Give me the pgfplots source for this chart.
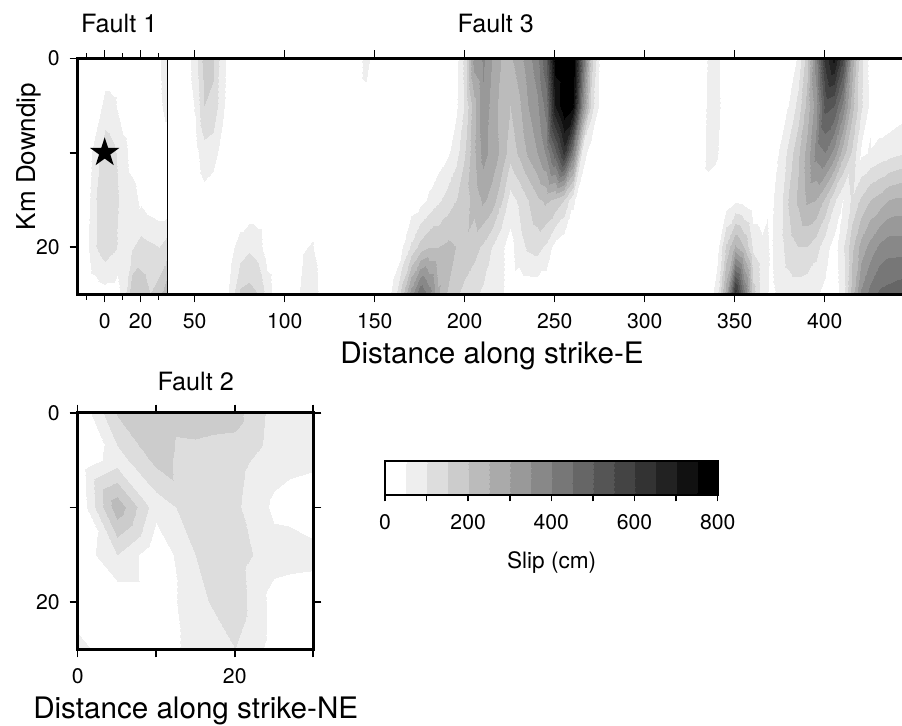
\documentclass[border=0pt]{standalone}
\usepackage{pgfplots}
\pgfplotsset{compat=1.18}
\usepackage{fontspec}
\setmainfont{TeX Gyre Heros}

% 16 grey steps of 50 cm, white to black
\pgfplotsset{
  colormap={slip}{gray(0cm)=(1); gray(1cm)=(0.9333); gray(2cm)=(0.8667); gray(3cm)=(0.8);
    gray(4cm)=(0.7333); gray(5cm)=(0.6667); gray(6cm)=(0.6); gray(7cm)=(0.5333);
    gray(8cm)=(0.4667); gray(9cm)=(0.4); gray(10cm)=(0.3333); gray(11cm)=(0.2667);
    gray(12cm)=(0.2); gray(13cm)=(0.1333); gray(14cm)=(0.0667); gray(15cm)=(0); gray(16cm)=(0)},
  fault/.style={scale only axis, axis on top, y dir=reverse, enlargelimits=false,
    tick align=outside, tick pos=both,
    axis line style={line width=1.4pt},
    every tick/.style={black, line width=0.8pt},
    major tick length=4pt, minor tick length=2.6pt,
    tick label style={font=\fontsize{10.6}{12}\selectfont},
    xticklabel style={yshift=-2pt}, yticklabel style={xshift=-1.5pt},
    /pgf/number format/assume math mode=true,
    colormap name=slip, point meta min=0, point meta max=800},
  slip/.style={surf, shader=interp, colormap access=piecewise constant,
    point meta=explicit, mesh/rows=6},
}

\pgfdeclareplotmark{fstar}{%
  \pgfpathmoveto{\pgfpointpolar{90}{\pgfplotmarksize}}%
  \pgfpathlineto{\pgfpointpolar{126}{0.382\pgfplotmarksize}}%
  \pgfpathlineto{\pgfpointpolar{162}{\pgfplotmarksize}}%
  \pgfpathlineto{\pgfpointpolar{198}{0.382\pgfplotmarksize}}%
  \pgfpathlineto{\pgfpointpolar{234}{\pgfplotmarksize}}%
  \pgfpathlineto{\pgfpointpolar{270}{0.382\pgfplotmarksize}}%
  \pgfpathlineto{\pgfpointpolar{306}{\pgfplotmarksize}}%
  \pgfpathlineto{\pgfpointpolar{342}{0.382\pgfplotmarksize}}%
  \pgfpathlineto{\pgfpointpolar{18}{\pgfplotmarksize}}%
  \pgfpathlineto{\pgfpointpolar{54}{0.382\pgfplotmarksize}}%
  \pgfpathclose\pgfusepathqfill}

\begin{document}
\begin{tikzpicture}
\path[use as bounding box] (0,0) rectangle (451pt,-362.5pt);

% ---- Fault 1 + Fault 3 ----
\begin{axis}[fault, name=top, at={(38.85pt,-29.15pt)}, anchor=north west,
  width=414pt, height=118pt,
  xmin=-15, xmax=445, ymin=0, ymax=25,
  xtick={0,20,50,100,150,200,250,300,350,400}, minor xtick={-10,10,30},
  ytick={0,10,20}, yticklabels={0,,20}]

% Fault 1
\addplot[slip] coordinates {
(-15,0) [10] (-10,0) [10] (-5,0) [10] (0,0) [10] (5,0) [10] (10,0) [10] (15,0) [10] (20,0) [10] (25,0) [10] (30,0) [45] (35,0) [80]
(-15,5) [10] (-10,5) [10] (-5,5) [15] (0,5) [70] (5,5) [60] (10,5) [20] (15,5) [10] (20,5) [10] (25,5) [10] (30,5) [40] (35,5) [70]
(-15,10) [10] (-10,10) [20] (-5,10) [80] (0,10) [130] (5,10) [110] (10,10) [70] (15,10) [30] (20,10) [15] (25,10) [10] (30,10) [10] (35,10) [10]
(-15,15) [10] (-10,15) [30] (-5,15) [100] (0,15) [140] (5,15) [120] (10,15) [80] (15,15) [70] (20,15) [40] (25,15) [20] (30,15) [10] (35,15) [10]
(-15,20) [10] (-10,20) [40] (-5,20) [100] (0,20) [130] (5,20) [110] (10,20) [80] (15,20) [95] (20,20) [120] (25,20) [110] (30,20) [100] (35,20) [130]
(-15,25) [10] (-10,25) [10] (-5,25) [20] (0,25) [30] (5,25) [30] (10,25) [60] (15,25) [190] (20,25) [180] (25,25) [150] (30,25) [180] (35,25) [250]
};

% Fault 3
\addplot[slip] coordinates {
(35,0) [10] (40,0) [10] (45,0) [20] (50,0) [80] (55,0) [170] (60,0) [160] (65,0) [70] (70,0) [20] (75,0) [10] (80,0) [10]
(85,0) [10] (90,0) [10] (95,0) [10] (100,0) [10] (105,0) [10] (110,0) [10] (115,0) [10] (120,0) [10] (125,0) [10] (130,0) [10]
(135,0) [10] (140,0) [10] (145,0) [80] (150,0) [10] (155,0) [10] (160,0) [10] (165,0) [10] (170,0) [10] (175,0) [10] (180,0) [10]
(185,0) [10] (190,0) [10] (195,0) [30] (200,0) [120] (205,0) [330] (210,0) [360] (215,0) [300] (220,0) [250] (225,0) [240] (230,0) [280]
(235,0) [330] (240,0) [380] (245,0) [500] (250,0) [780] (255,0) [900] (260,0) [820] (265,0) [480] (270,0) [180] (275,0) [40] (280,0) [10]
(285,0) [10] (290,0) [10] (295,0) [10] (300,0) [10] (305,0) [10] (310,0) [10] (315,0) [10] (320,0) [10] (325,0) [10] (330,0) [10]
(335,0) [55] (340,0) [65] (345,0) [10] (350,0) [10] (355,0) [10] (360,0) [10] (365,0) [10] (370,0) [10] (375,0) [10] (380,0) [10]
(385,0) [60] (390,0) [180] (395,0) [380] (400,0) [620] (405,0) [720] (410,0) [560] (415,0) [280] (420,0) [110] (425,0) [30] (430,0) [10]
(435,0) [10] (440,0) [10] (445,0) [10]
(35,5) [10] (40,5) [10] (45,5) [15] (50,5) [55] (55,5) [150] (60,5) [140] (65,5) [65] (70,5) [10] (75,5) [10] (80,5) [10]
(85,5) [10] (90,5) [10] (95,5) [10] (100,5) [10] (105,5) [10] (110,5) [10] (115,5) [10] (120,5) [10] (125,5) [10] (130,5) [10]
(135,5) [10] (140,5) [10] (145,5) [20] (150,5) [10] (155,5) [10] (160,5) [10] (165,5) [10] (170,5) [10] (175,5) [10] (180,5) [10]
(185,5) [10] (190,5) [20] (195,5) [40] (200,5) [110] (205,5) [230] (210,5) [340] (215,5) [280] (220,5) [230] (225,5) [200] (230,5) [240]
(235,5) [300] (240,5) [340] (245,5) [420] (250,5) [700] (255,5) [900] (260,5) [760] (265,5) [380] (270,5) [130] (275,5) [30] (280,5) [10]
(285,5) [10] (290,5) [10] (295,5) [10] (300,5) [10] (305,5) [10] (310,5) [10] (315,5) [10] (320,5) [10] (325,5) [10] (330,5) [10]
(335,5) [60] (340,5) [65] (345,5) [20] (350,5) [10] (355,5) [10] (360,5) [10] (365,5) [10] (370,5) [10] (375,5) [10] (380,5) [55]
(385,5) [120] (390,5) [220] (395,5) [330] (400,5) [520] (405,5) [500] (410,5) [380] (415,5) [220] (420,5) [110] (425,5) [40] (430,5) [10]
(435,5) [10] (440,5) [20] (445,5) [30]
(35,10) [10] (40,10) [10] (45,10) [10] (50,10) [30] (55,10) [80] (60,10) [70] (65,10) [30] (70,10) [10] (75,10) [10] (80,10) [10]
(85,10) [10] (90,10) [10] (95,10) [10] (100,10) [10] (105,10) [10] (110,10) [10] (115,10) [10] (120,10) [10] (125,10) [10] (130,10) [10]
(135,10) [10] (140,10) [10] (145,10) [10] (150,10) [10] (155,10) [10] (160,10) [10] (165,10) [10] (170,10) [10] (175,10) [10] (180,10) [10]
(185,10) [20] (190,10) [40] (195,10) [80] (200,10) [150] (205,10) [240] (210,10) [320] (215,10) [280] (220,10) [240] (225,10) [170] (230,10) [210]
(235,10) [260] (240,10) [300] (245,10) [360] (250,10) [480] (255,10) [620] (260,10) [400] (265,10) [80] (270,10) [20] (275,10) [10] (280,10) [10]
(285,10) [10] (290,10) [10] (295,10) [10] (300,10) [10] (305,10) [10] (310,10) [10] (315,10) [10] (320,10) [10] (325,10) [10] (330,10) [20]
(335,10) [60] (340,10) [55] (345,10) [15] (350,10) [10] (355,10) [10] (360,10) [10] (365,10) [10] (370,10) [10] (375,10) [60] (380,10) [120]
(385,10) [190] (390,10) [270] (395,10) [370] (400,10) [400] (405,10) [330] (410,10) [220] (415,10) [140] (420,10) [40] (425,10) [55] (430,10) [70]
(435,10) [80] (440,10) [90] (445,10) [100]
(35,15) [10] (40,15) [10] (45,15) [10] (50,15) [10] (55,15) [30] (60,15) [20] (65,15) [10] (70,15) [10] (75,15) [10] (80,15) [10]
(85,15) [10] (90,15) [10] (95,15) [10] (100,15) [10] (105,15) [10] (110,15) [10] (115,15) [10] (120,15) [10] (125,15) [10] (130,15) [10]
(135,15) [10] (140,15) [10] (145,15) [10] (150,15) [10] (155,15) [10] (160,15) [10] (165,15) [10] (170,15) [20] (175,15) [30] (180,15) [60]
(185,15) [90] (190,15) [120] (195,15) [150] (200,15) [180] (205,15) [220] (210,15) [260] (215,15) [230] (220,15) [160] (225,15) [80] (230,15) [110]
(235,15) [150] (240,15) [190] (245,15) [210] (250,15) [190] (255,15) [150] (260,15) [60] (265,15) [10] (270,15) [10] (275,15) [10] (280,15) [10]
(285,15) [10] (290,15) [10] (295,15) [10] (300,15) [10] (305,15) [10] (310,15) [10] (315,15) [10] (320,15) [10] (325,15) [10] (330,15) [30]
(335,15) [35] (340,15) [20] (345,15) [20] (350,15) [40] (355,15) [30] (360,15) [10] (365,15) [10] (370,15) [40] (375,15) [80] (380,15) [160]
(385,15) [210] (390,15) [260] (395,15) [250] (400,15) [190] (405,15) [110] (410,15) [50] (415,15) [110] (420,15) [160] (425,15) [200] (430,15) [220]
(435,15) [250] (440,15) [260] (445,15) [260]
(35,20) [10] (40,20) [10] (45,20) [10] (50,20) [10] (55,20) [10] (60,20) [10] (65,20) [10] (70,20) [40] (75,20) [70] (80,20) [90]
(85,20) [75] (90,20) [20] (95,20) [10] (100,20) [10] (105,20) [10] (110,20) [45] (115,20) [55] (120,20) [20] (125,20) [10] (130,20) [10]
(135,20) [10] (140,20) [10] (145,20) [10] (150,20) [10] (155,20) [10] (160,20) [30] (165,20) [45] (170,20) [110] (175,20) [170] (180,20) [200]
(185,20) [200] (190,20) [210] (195,20) [200] (200,20) [190] (205,20) [170] (210,20) [140] (215,20) [100] (220,20) [60] (225,20) [30] (230,20) [80]
(235,20) [110] (240,20) [120] (245,20) [90] (250,20) [30] (255,20) [10] (260,20) [10] (265,20) [10] (270,20) [10] (275,20) [10] (280,20) [10]
(285,20) [10] (290,20) [10] (295,20) [10] (300,20) [10] (305,20) [10] (310,20) [10] (315,20) [10] (320,20) [10] (325,20) [10] (330,20) [10]
(335,20) [10] (340,20) [30] (345,20) [160] (350,20) [260] (355,20) [200] (360,20) [90] (365,20) [65] (370,20) [45] (375,20) [80] (380,20) [130]
(385,20) [150] (390,20) [150] (395,20) [120] (400,20) [70] (405,20) [30] (410,20) [90] (415,20) [190] (420,20) [270] (425,20) [320] (430,20) [360]
(435,20) [380] (440,20) [380] (445,20) [380]
(35,25) [10] (40,25) [10] (45,25) [10] (50,25) [10] (55,25) [10] (60,25) [10] (65,25) [10] (70,25) [70] (75,25) [160] (80,25) [170]
(85,25) [150] (90,25) [80] (95,25) [20] (100,25) [10] (105,25) [10] (110,25) [80] (115,25) [90] (120,25) [30] (125,25) [10] (130,25) [10]
(135,25) [10] (140,25) [10] (145,25) [10] (150,25) [10] (155,25) [20] (160,25) [60] (165,25) [180] (170,25) [330] (175,25) [450] (180,25) [380]
(185,25) [260] (190,25) [200] (195,25) [160] (200,25) [130] (205,25) [110] (210,25) [90] (215,25) [70] (220,25) [60] (225,25) [20] (230,25) [10]
(235,25) [10] (240,25) [10] (245,25) [10] (250,25) [10] (255,25) [10] (260,25) [10] (265,25) [10] (270,25) [10] (275,25) [10] (280,25) [10]
(285,25) [10] (290,25) [10] (295,25) [10] (300,25) [10] (305,25) [10] (310,25) [10] (315,25) [10] (320,25) [10] (325,25) [10] (330,25) [10]
(335,25) [10] (340,25) [80] (345,25) [280] (350,25) [640] (355,25) [420] (360,25) [170] (365,25) [70] (370,25) [40] (375,25) [60] (380,25) [70]
(385,25) [70] (390,25) [60] (395,25) [55] (400,25) [40] (405,25) [20] (410,25) [80] (415,25) [220] (420,25) [360] (425,25) [420] (430,25) [460]
(435,25) [470] (440,25) [480] (445,25) [500]
};

% epicentre
\addplot[only marks, mark=fstar, mark size=7.7pt, black] coordinates {(0,10)};
\draw[line width=0.8pt] (axis cs:35,0) -- (axis cs:35,25);
\end{axis}

% ---- Fault 2 (rows listed right to left so the cells split along the other diagonal) ----
\begin{axis}[fault, name=f2, at={(38.85pt,-206.35pt)}, anchor=north west,
  width=117.8pt, height=118.3pt,
  xmin=0, xmax=30, ymin=0, ymax=25,
  xtick={0,10,20,30}, xticklabels={0,,20,},
  ytick={0,10,20}, yticklabels={0,,20}]
\addplot[slip] coordinates {
(30,0) [60] (25,0) [80] (20,0) [170] (15,0) [175] (10,0) [170] (5,0) [155] (0,0) [0]
(30,5) [60] (25,5) [70] (20,5) [120] (15,5) [130] (10,5) [165] (5,5) [75] (0,5) [10]
(30,10) [20] (25,10) [40] (20,10) [110] (15,10) [130] (10,10) [70] (5,10) [235] (0,10) [0]
(30,15) [65] (25,15) [70] (20,15) [125] (15,15) [100] (10,15) [10] (5,15) [100] (0,15) [10]
(30,20) [20] (25,20) [30] (20,20) [130] (15,20) [85] (10,20) [10] (5,20) [10] (0,20) [10]
(30,25) [20] (25,25) [30] (20,25) [100] (15,25) [75] (10,25) [10] (5,25) [10] (0,25) [70]
};
\end{axis}

% ---- colour scale ----
\begin{axis}[scale only axis, at={(192.5pt,-230.35pt)}, anchor=north west,
  width=166.35pt, height=17.3pt, enlargelimits=false, axis on top,
  xmin=0, xmax=800, ymin=0, ymax=1, ytick=\empty,
  xtick={0,100,...,800}, xticklabels={0,,200,,400,,600,,800},
  xtick pos=left, tick align=outside,
  axis line style={line width=1pt},
  every tick/.style={black, line width=0.8pt}, major tick length=3pt,
  tick label style={font=\fontsize{10.6}{12}\selectfont},
  xticklabel style={yshift=-3pt},
  /pgf/number format/assume math mode=true,
  colormap name=slip, point meta min=0, point meta max=800]
\addplot[surf, shader=interp, colormap access=piecewise constant, point meta=explicit, mesh/rows=2]
  coordinates {(0,0) [0] (800,0) [800] (0,1) [0] (800,1) [800]};
\end{axis}

% ---- titles and labels ----
\node[anchor=base, font=\fontsize{12.6}{14}\selectfont] at (59.6pt,-16.2pt) {Fault 1};
\node[anchor=base, font=\fontsize{12.6}{14}\selectfont] at (247.9pt,-16.2pt) {Fault 3};
\node[anchor=base, font=\fontsize{12.6}{14}\selectfont] at (97.85pt,-195pt) {Fault 2};
\node[anchor=base, rotate=90, font=\fontsize{13}{15}\selectfont] at (17.5pt,-78.3pt) {Km Downdip};
\node[anchor=base, font=\fontsize{14.8}{17}\selectfont] at (246pt,-181.65pt) {Distance along strike-E};
\node[anchor=base, font=\fontsize{14.8}{17}\selectfont] at (97.85pt,-359.15pt) {Distance along strike-NE};
\node[anchor=base, font=\fontsize{11.3}{13}\selectfont] at (275.85pt,-284.15pt) {Slip (cm)};
\end{tikzpicture}
\end{document}
